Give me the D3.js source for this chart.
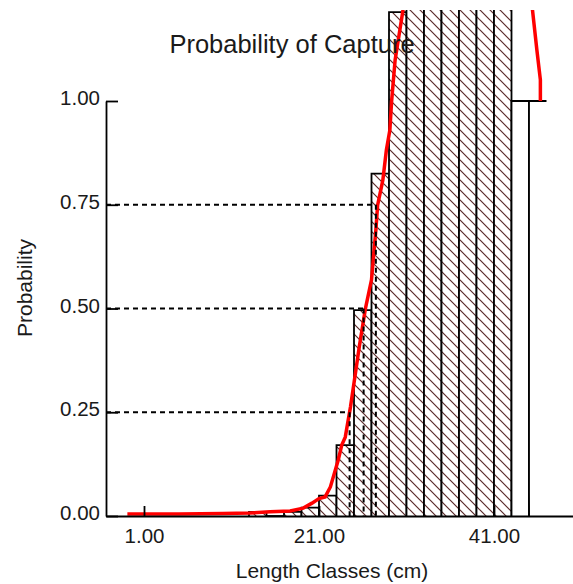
<!DOCTYPE html>
<html>
<head>
<meta charset="utf-8">
<script src="https://cdn.jsdelivr.net/npm/d3@7"></script>
<style>
  body { margin: 0; background: #fff; }
  text { font-family: Arial, "Liberation Sans", sans-serif; fill: #1a1a1a; }
</style>
</head>
<body>
<div id="chart"></div>
<script>
// length classes (lower bound, cm) and observed probability per class
var classStart = [13, 15, 17, 19, 21, 23, 25, 27, 29, 31, 33, 35, 37, 39, 41, 43, 45];
var classProb  = [0.01, 0.0, 0.01, 0.02, 0.049, 0.171, 0.496, 0.825, 1.214, 1.35, 1.45, 1.5, 1.45, 1.4, 1.3, 1.0, 1.0];
var classWidth = 2;

// fitted capture curve (length cm, probability)
var curveLen  = [-0.9, 5, 10, 13.1, 15.4, 17.7, 19.2, 20.2, 21.0, 21.7, 22.3, 22.8, 23.2, 23.6, 24.0, 24.6, 25.1, 25.6, 26.3, 27.0, 27.5, 27.7, 28.3, 28.7, 29.1, 29.3, 29.7, 30.6, 32, 36, 41, 44, 45.4, 45.9, 46.3, 46.3];
var curveProb = [0.005, 0.005, 0.006, 0.007, 0.010, 0.012, 0.019, 0.031, 0.042, 0.046, 0.07, 0.106, 0.135, 0.171, 0.19, 0.263, 0.335, 0.407, 0.499, 0.569, 0.689, 0.749, 0.81, 0.882, 0.93, 1.0, 1.099, 1.219, 1.45, 1.7, 1.6, 1.4, 1.219, 1.123, 1.051, 1.0];

// L25, L50, L75
var refProb = [0.25, 0.50, 0.75];
var refLen  = [24.5, 26.1, 27.5];

var yTicks = [0, 0.25, 0.5, 0.75, 1];
var xTicks = [1, 21, 41];

var width = 573, height = 584;

var svg = d3.select("#chart").append("svg")
    .attr("width", width)
    .attr("height", height);

var x = d3.scaleLinear().domain([1, 41]).range([144, 494]);
var y = d3.scaleLinear().domain([0, 1]).range([516, 101]);

var defs = svg.append("defs");
var hatch = defs.append("pattern")
    .attr("id", "hatch")
    .attr("patternUnits", "userSpaceOnUse")
    .attr("width", 10)
    .attr("height", 10);
hatch.append("rect").attr("width", 10).attr("height", 10).attr("fill", "white");
hatch.append("path")
    .attr("d", "M0,0 L10,10 M-2,8 L2,12 M8,-2 L12,2")
    .attr("stroke", "#5b2a2a")
    .attr("stroke-width", 1.2);

defs.append("clipPath").attr("id", "plotclip")
    .append("rect")
    .attr("x", 0).attr("y", 10)
    .attr("width", width).attr("height", 520);

//horizontal reference lines, drawn under the bars
svg.selectAll(".refh")
    .data(refProb)
    .enter().append("line")
    .attr("class", "refh")
    .attr("x1", 106)
    .attr("x2", (d, i) => x(refLen[i]))
    .attr("y1", d => y(d))
    .attr("y2", d => y(d))
    .attr("stroke", "#000")
    .attr("stroke-width", 2)
    .attr("stroke-dasharray", "5,4");

var plot = svg.append("g").attr("clip-path", "url(#plotclip)");

//bars
var bars = classStart.map((s, i) => ({ s: s, p: classProb[i] }));
plot.selectAll(".bar")
    .data(bars)
    .enter().append("path")
    .attr("class", "bar")
    .attr("d", (d, i) => {
        var x0 = x(d.s), x1 = x(d.s + classWidth), y0 = y(0), y1 = y(d.p);
        var p = "M" + x0 + "," + y0 + "V" + y1 + "H" + x1;
        if (i < bars.length - 1) p += "V" + y0;
        return p;
    })
    .attr("fill", d => d.p === 1 ? "white" : "url(#hatch)")
    .attr("stroke", "#000")
    .attr("stroke-width", 1.8);

//vertical reference lines down to the axis
svg.selectAll(".refv")
    .data(refProb)
    .enter().append("line")
    .attr("class", "refv")
    .attr("x1", (d, i) => x(refLen[i]))
    .attr("x2", (d, i) => x(refLen[i]))
    .attr("y1", d => y(d))
    .attr("y2", y(0))
    .attr("stroke", "#000")
    .attr("stroke-width", 2)
    .attr("stroke-dasharray", "5,4");

//title, on top of the bars
svg.append("text")
    .attr("x", 292)
    .attr("y", 53)
    .attr("text-anchor", "middle")
    .style("font-size", "25.5px")
    .text("Probability of Capture");

//axes
var yAxis = d3.axisLeft(y)
    .tickValues(yTicks)
    .tickFormat(d3.format(".2f"))
    .tickSizeInner(-12)
    .tickSizeOuter(0)
    .tickPadding(6);

var yg = svg.append("g")
    .attr("transform", "translate(106,0)")
    .call(yAxis);
yg.selectAll("text").style("font-size", "20.5px").attr("dy", "0.18em");

var xAxisScale = x.copy().domain([x.invert(106), x.invert(573)]).range([106, 573]);
var xAxis = d3.axisBottom(xAxisScale)
    .tickValues(xTicks)
    .tickFormat(d3.format(".2f"))
    .tickSizeInner(-10)
    .tickSizeOuter(0)
    .tickPadding(12);

var xg = svg.append("g")
    .attr("transform", "translate(0," + y(0) + ")")
    .call(xAxis);
xg.selectAll("text").style("font-size", "20.5px");

svg.selectAll(".domain, .tick line")
    .attr("stroke", "#000")
    .attr("stroke-width", 1.8);

//fitted curve
var curve = curveLen.map((l, i) => [l, curveProb[i]]);
plot.append("path")
    .datum(curve)
    .attr("d", d3.line().x(d => x(d[0])).y(d => y(d[1])))
    .attr("fill", "none")
    .attr("stroke", "#ff0000")
    .attr("stroke-width", 3.5);

//axis labels
svg.append("text")
    .attr("x", 332)
    .attr("y", 578)
    .attr("text-anchor", "middle")
    .style("font-size", "21px")
    .text("Length Classes (cm)");

svg.append("text")
    .attr("transform", "translate(32,288) rotate(-90)")
    .attr("text-anchor", "middle")
    .style("font-size", "21px")
    .text("Probability");
</script>
</body>
</html>
